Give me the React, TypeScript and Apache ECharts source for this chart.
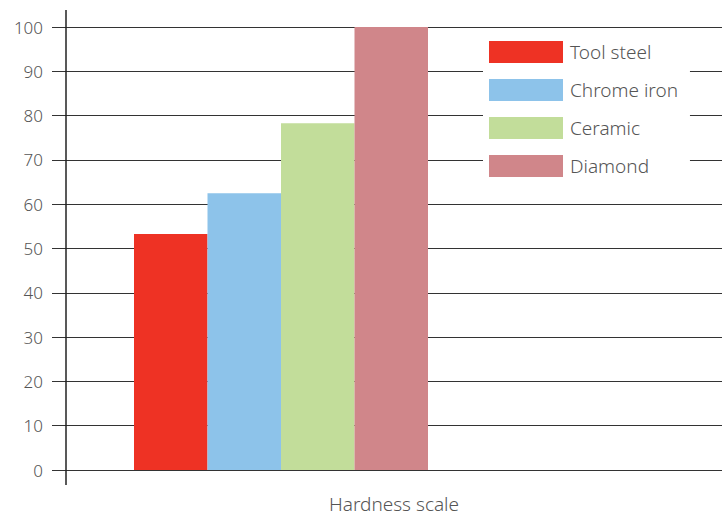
import React, { useEffect, useRef } from "react";
import * as echarts from "echarts";

const categories = ["Hardness scale"];
const seriesNames = ["Tool steel", "Chrome iron", "Ceramic", "Diamond"];
const seriesValues = [53.3, 62.5, 78.3, 100];
const seriesColors = ["#ee3224", "#8dc3ea", "#c2dd9a", "#d0868a"];
const yTicks = { min: 0, max: 100, interval: 10 };

export default function App() {
  const ref = useRef<HTMLDivElement>(null);
  useEffect(() => {
    if (!ref.current) return;
    const chart = echarts.init(ref.current, undefined, { renderer: "svg" });
    const font = "Noto Sans";
    chart.setOption({
      animation: false,
      textStyle: { fontFamily: font },
      grid: [
        { left: 66, right: 6, top: 27, bottom: 47, containLabel: false, outerBoundsMode: "none" },
        { left: 66, width: 430, top: 27, bottom: 47, containLabel: false, outerBoundsMode: "none" },
      ],
      xAxis: [
        {
          type: "category",
          gridIndex: 0,
          data: categories,
          axisLine: { show: false },
          axisTick: { show: false },
          axisLabel: { show: false },
          name: "Hardness scale",
          nameLocation: "middle",
          nameGap: 24,
          nameTextStyle: { fontSize: 19, color: "#555", fontFamily: font, fontWeight: 300 },
        },
        {
          type: "category",
          gridIndex: 1,
          data: categories,
          show: false,
        },
      ],
      yAxis: [
        {
          type: "value",
          gridIndex: 0,
          min: yTicks.min,
          max: yTicks.max,
          interval: yTicks.interval,
          axisLine: { show: false },
          axisTick: { show: true, length: 14, lineStyle: { color: "#333", width: 1 } },
          axisLabel: { fontSize: 17, color: "#555", margin: 23, fontFamily: font, fontWeight: 300 },
          splitLine: { show: true, lineStyle: { color: "#333", width: 1 } },
        },
        {
          type: "value",
          gridIndex: 1,
          min: yTicks.min,
          max: yTicks.max,
          interval: yTicks.interval,
          show: false,
          splitLine: { show: false },
        },
      ],
      legend: {
        orient: "vertical",
        left: 483,
        top: 33,
        padding: [8, 12, 8, 6],
        backgroundColor: "#fff",
        itemWidth: 74,
        itemHeight: 22,
        itemGap: 16,
        icon: "rect",
        data: seriesNames,
        textStyle: { fontSize: 19, color: "#555", fontFamily: font, fontWeight: 300, padding: [0, 0, 0, 2] },
      },
      graphic: [
        {
          type: "line",
          shape: { x1: 66, y1: 10, x2: 66, y2: 485 },
          style: { stroke: "#222", lineWidth: 1.5 },
          z: 100,
        },
      ],
      series: seriesNames.map((name, i) => ({
        type: "bar",
        name,
        xAxisIndex: 1,
        yAxisIndex: 1,
        barWidth: 73.5,
        barGap: "0%",
        itemStyle: { color: seriesColors[i] },
        data: [seriesValues[i]],
      })),
    });
    return () => chart.dispose();
  }, []);
  return <div ref={ref} style={{ width: 728, height: 517, position: "absolute", left: 0, top: 0 }} />;
}
